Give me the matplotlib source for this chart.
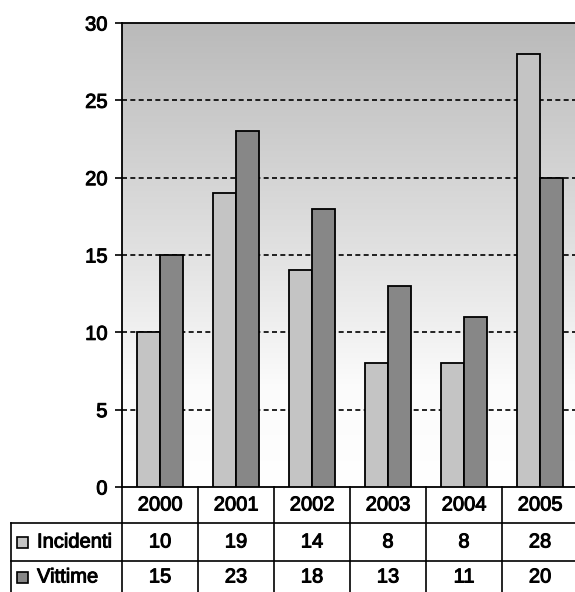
import numpy as np
import matplotlib
matplotlib.use("Agg")
import matplotlib.pyplot as plt
import matplotlib.patheffects as pe
from matplotlib.transforms import blended_transform_factory
from matplotlib.colors import LinearSegmentedColormap
from matplotlib.patches import Rectangle

# data
years = ["2000", "2001", "2002", "2003", "2004", "2005"]
incidenti = [10, 19, 14, 8, 8, 28]
vittime = [15, 23, 18, 13, 11, 20]
series_names = ["Incidenti", "Vittime"]
yticks = [0, 5, 10, 15, 20, 25, 30]

colors = ["#c4c4c4", "#878787"]

plt.rcParams['font.family'] = ['Liberation Sans', 'DejaVu Sans']
fs = 14.5
# scanned text looks a bit heavier than regular weight
thick = [pe.withStroke(linewidth=0.7, foreground="black")]

fig = plt.figure(figsize=(5.75, 5.92), dpi=100)
# plot area runs a little past the right edge, as in the scan
ax = fig.add_axes([122 / 575, 1 - 487 / 592, 456 / 575, 464 / 592])

# gray -> white background gradient
cmap = LinearSegmentedColormap.from_list(
    "bg", [(0, "#ffffff"), (0.22, "#fbfbfb"), (0.5, "#e2e2e2"), (1, "#bababa")])
grad = np.linspace(0, 1, 256).reshape(-1, 1)
ax.imshow(grad, extent=(0, 6, 0, 30), origin="lower", aspect="auto",
          cmap=cmap, zorder=0)

x = np.arange(len(years))
w = 0.3
ax.bar(x + 0.5 - w / 2, incidenti, w, color=colors[0], edgecolor="black",
       linewidth=1.3, zorder=3)
ax.bar(x + 0.5 + w / 2, vittime, w, color=colors[1], edgecolor="black",
       linewidth=1.3, zorder=3)

for y in yticks[1:-1]:
    ax.axhline(y, color="black", linestyle=(0, (3, 2)), linewidth=1.2, zorder=2)

ax.set_xlim(0, 6)
ax.set_ylim(0, 30)
ax.set_yticks(yticks)
ax.set_yticklabels([str(t) for t in yticks], fontsize=fs, path_effects=thick)
ax.tick_params(axis="y", length=5, width=1.2, pad=5.5)
ax.set_xticks([])
for s in ax.spines.values():
    s.set_linewidth(1.3)

# data table under the axis
trans = blended_transform_factory(ax.transData, ax.transAxes)
h0 = -36 / 464
h1 = -74 / 464
hb = -0.24
lx = (11 - 122) / 456
lw = 1.2
for i in range(len(years) + 1):
    ax.plot([i, i], [0, hb], transform=trans, color="black", lw=lw, clip_on=False)
ax.plot([lx, 1], [h0, h0], transform=ax.transAxes, color="black", lw=lw, clip_on=False)
ax.plot([lx, 1], [h1, h1], transform=ax.transAxes, color="black", lw=lw, clip_on=False)
ax.plot([lx, lx], [h0, hb], transform=ax.transAxes, color="black", lw=lw, clip_on=False)

row_y = [-18 / 464, -55 / 464, -90 / 464]
for i, yr in enumerate(years):
    ax.text(i + 0.5, row_y[0], yr, transform=trans, ha="center", va="center",
            fontsize=fs, path_effects=thick)
    ax.text(i + 0.5, row_y[1], str(incidenti[i]), transform=trans, ha="center",
            va="center", fontsize=fs, path_effects=thick)
    ax.text(i + 0.5, row_y[2], str(vittime[i]), transform=trans, ha="center",
            va="center", fontsize=fs, path_effects=thick)

for j, name in enumerate(series_names):
    yc = row_y[j + 1]
    ax.add_patch(Rectangle((lx + 6 / 456, yc - 5.5 / 464), 11 / 456, 11 / 464,
                           transform=ax.transAxes, facecolor=colors[j],
                           edgecolor="black", lw=1.2, clip_on=False))
    ax.text(lx + 26 / 456, yc, name, transform=ax.transAxes, ha="left",
            va="center", fontsize=fs, path_effects=thick)

fig.savefig("out.png", dpi=100)
